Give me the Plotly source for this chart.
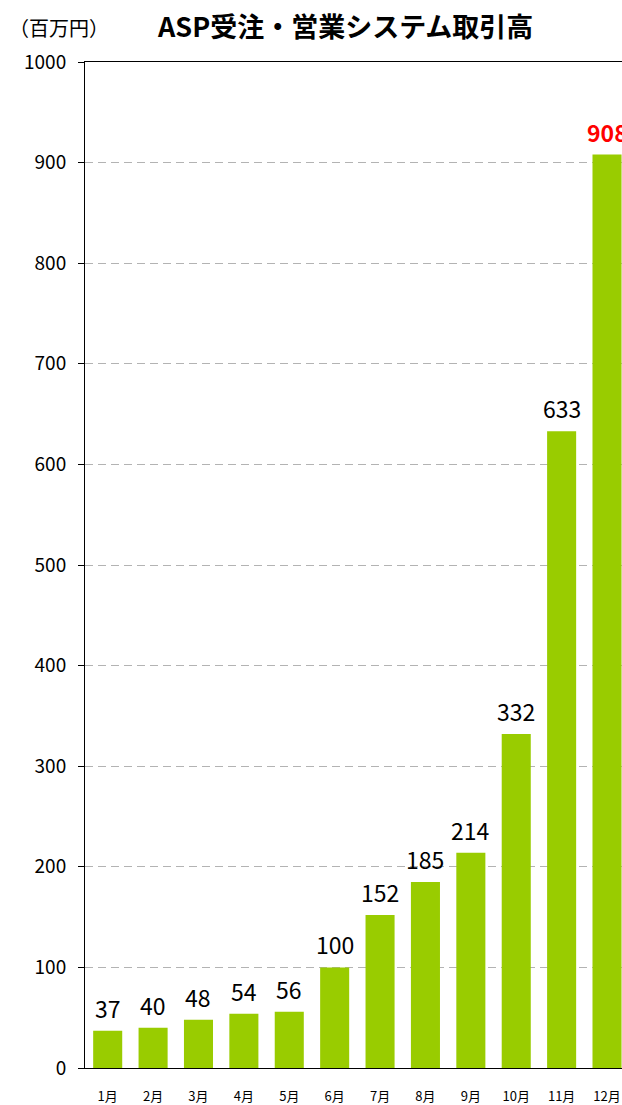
import plotly.graph_objects as go

months = ["1月", "2月", "3月", "4月", "5月", "6月", "7月", "8月", "9月", "10月", "11月", "12月"]
values = [37, 40, 48, 54, 56, 100, 152, 185, 214, 332, 633, 908]
y_ticks = [0, 100, 200, 300, 400, 500, 600, 700, 800, 900, 1000]

FONT = "Noto Sans CJK JP"
BAR_COLOR = "#99CC00"

W, H = 622, 1105
ML, MR, MT, MB = 85, 0, 62, 37

fig = go.Figure()
fig.add_trace(go.Bar(
    x=months, y=values,
    marker=dict(color=BAR_COLOR, line=dict(width=0)),
    width=0.64,
    hoverinfo="x+y",
    cliponaxis=False,
))

for i, (m, v) in enumerate(zip(months, values)):
    last = i == len(values) - 1
    fig.add_annotation(
        x=m, y=v, xref="x", yref="y",
        text=f"<b>{v}</b>" if last else str(v),
        showarrow=False, yanchor="bottom", yshift=4,
        font=dict(family=FONT, size=23, color="#FF0000" if last else "#000000"),
    )

plot_h = H - MT - MB
plot_w = W - ML - MR
def px_x(px):
    return (px - ML) / plot_w
def px_y(py):
    return (H - MB - py) / plot_h

fig.add_annotation(
    x=px_x(7), y=px_y(28), xref="paper", yref="paper",
    xanchor="left", yanchor="middle", showarrow=False,
    text="（百万円）", font=dict(family=FONT, size=20, color="#000000"),
)
fig.add_annotation(
    x=px_x(345), y=px_y(25), xref="paper", yref="paper",
    xanchor="center", yanchor="middle", showarrow=False,
    text="<b>ASP受注・営業システム取引高</b>",
    font=dict(family=FONT, size=27, color="#000000"),
)

fig.update_layout(
    width=W, height=H,
    margin=dict(l=ML, r=MR, t=MT, b=MB, pad=0),
    paper_bgcolor="white", plot_bgcolor="white",
    showlegend=False,
    font=dict(family=FONT, color="#000000"),
    xaxis=dict(
        type="category",
        range=[-0.5, 11.33],
        automargin=False,
        showline=True, linecolor="#000000", linewidth=1, mirror=True,
        showgrid=False, ticks="", zeroline=False,
        tickfont=dict(family=FONT, size=13),
        ticklabelstandoff=16,
    ),
    yaxis=dict(
        range=[0, 1000],
        tickvals=y_ticks,
        automargin=False,
        showline=True, linecolor="#000000", linewidth=1,
        ticks="outside", ticklen=6, tickcolor="#000000",
        showgrid=True, gridcolor="#b3b3b3", griddash="8px,5px", gridwidth=1,
        zeroline=False,
        tickfont=dict(family=FONT, size=19),
        ticklabelstandoff=8,
    ),
)

fig.write_html(
    "out.html",
    config={"displayModeBar": False},
    post_script="document.body.style.margin='0';document.body.style.overflow='hidden';",
)
